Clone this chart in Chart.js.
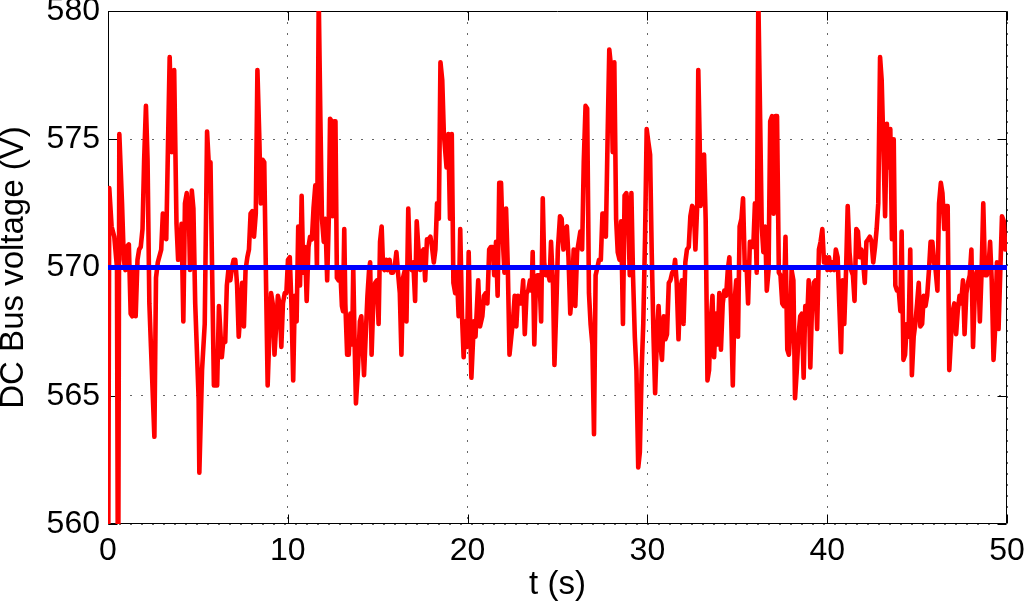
<!DOCTYPE html>
<html><head><meta charset="utf-8">
<script src="https://cdn.jsdelivr.net/npm/chart.js@4.4.0/dist/chart.umd.min.js"></script>
<style>html,body{margin:0;padding:0;background:#fff;}#wrap{width:1024px;height:608px;}</style>
</head><body><div id="wrap"><canvas id="c" width="1024" height="608"></canvas></div>
<script>
// time axis (s)
const timeS = [
0, 0.07, 0.2, 0.35, 0.5, 0.56, 0.63, 0.78, 0.88, 0.97,
1.03, 1.16, 1.26, 1.35, 1.45, 1.54, 1.64, 1.73, 1.82, 1.92,
2.01, 2.11, 2.20, 2.30, 2.39, 2.58, 2.67, 2.77, 2.96, 3.05,
3.15, 3.24, 3.34, 3.43, 3.56, 3.68, 3.81, 3.90, 4.00, 4.09,
4.19, 4.28, 4.38, 4.51, 4.56, 4.66, 4.75, 4.85, 5.04, 5.08,
5.23, 5.38, 5.51, 5.60, 5.70, 5.79, 5.89, 6.07, 6.17,
6.33, 6.42, 6.52, 6.61, 6.71, 6.80, 6.90, 6.99, 7.08, 7.18,
7.27, 7.37, 7.46, 7.56, 7.65, 7.75, 7.84, 7.93, 8.03, 8.12,
8.22, 8.31, 8.41, 8.50, 8.60, 8.69, 8.79, 8.88, 8.97, 9.07,
9.16, 9.26, 9.35, 9.45, 9.54, 9.64, 9.73, 9.83, 9.92, 10.01,
10.11, 10.20, 10.30, 10.39, 10.49, 10.58, 10.68, 10.77, 10.86, 10.96,
11.05, 11.15, 11.24, 11.34, 11.43, 11.53, 11.62, 11.72, 11.81, 11.90,
12.00, 12.09, 12.19, 12.28,
12.35, 12.44, 12.50, 12.58, 12.65, 12.73, 12.82, 12.92, 13.01, 13.07,
13.14, 13.20, 13.30, 13.39, 13.48, 13.58, 13.64, 13.71, 13.79, 13.90,
14.01, 14.09, 14.16, 14.24, 14.33, 14.43, 14.52, 14.58, 14.66, 14.77,
14.86, 14.96, 15.05, 15.13, 15.22, 15.30, 15.37, 15.47, 15.56, 15.66,
15.75, 15.85, 15.94, 16.04, 16.13, 16.23, 16.32, 16.41, 16.51, 16.60,
16.70, 16.79, 16.89, 16.98, 17.08, 17.17, 17.26, 17.36, 17.45, 17.55,
17.64, 17.74, 17.83, 17.93, 18.02, 18.12, 18.21, 18.30, 18.40, 18.49,
18.59, 18.68,
18.83, 18.93, 19.02, 19.12, 19.21, 19.31, 19.40, 19.50, 19.59, 19.69,
19.78, 19.87, 19.97, 20.06, 20.16, 20.21, 20.35, 20.44, 20.59, 20.69,
20.82, 20.91, 21.01, 21.10, 21.20, 21.29, 21.39, 21.48, 21.58, 21.67,
21.76, 21.86, 21.95, 22.05, 22.14, 22.24, 22.33, 22.43, 22.52, 22.62,
22.71, 22.80, 22.90, 22.99, 23.09, 23.18, 23.28, 23.37, 23.47, 23.56,
23.62, 23.71, 23.79, 23.88, 23.99, 24.09, 24.18, 24.26, 24.35, 24.45,
24.56, 24.64, 24.75, 24.83, 24.94, 25.02,
25.14, 25.23, 25.33, 25.42, 25.52, 25.61, 25.71, 25.80, 25.90, 25.99,
26.09, 26.18, 26.27, 26.37, 26.46, 26.56, 26.65, 26.75, 26.84, 26.94,
27.03, 27.12, 27.22, 27.31, 27.41, 27.50, 27.60, 27.69, 27.79, 27.88,
27.98, 28.07, 28.16, 28.26, 28.35, 28.45, 28.54, 28.64, 28.73, 28.83,
28.92, 29.02, 29.11, 29.20, 29.30, 29.39, 29.49, 29.58, 29.68, 29.77,
29.87, 29.96, 30.05, 30.15, 30.24, 30.34, 30.43, 30.53, 30.62, 30.72,
30.81, 30.91, 31.00, 31.09, 31.19, 31.28, 31.38, 31.47,
31.54, 31.63, 31.73, 31.82, 31.92, 32.01, 32.11, 32.20, 32.30, 32.39,
32.49, 32.58, 32.67, 32.77, 32.83, 32.90, 32.96, 33.05, 33.15, 33.24,
33.34, 33.43, 33.52, 33.62, 33.71, 33.81, 33.90, 34.00, 34.09, 34.19,
34.28, 34.38, 34.47, 34.56, 34.66, 34.75, 34.85, 34.94, 35.04, 35.13,
35.23, 35.32, 35.42, 35.51, 35.60, 35.70, 35.79, 35.89, 35.98, 36.08,
36.17, 36.27, 36.36, 36.45, 36.55, 36.64, 36.74, 36.83, 36.93, 37.02,
37.12, 37.21, 37.31, 37.40, 37.50, 37.59, 37.68, 37.78, 37.87,
37.93, 38.02, 38.12, 38.21, 38.31, 38.40, 38.50, 38.59, 38.69, 38.78,
38.88, 38.97, 39.06, 39.16, 39.25, 39.35, 39.44, 39.54, 39.63, 39.73,
39.82, 39.92, 40.01, 40.10, 40.20, 40.29, 40.39, 40.48, 40.58, 40.67,
40.77, 40.86, 40.95, 41.05, 41.14, 41.24, 41.33, 41.43, 41.52, 41.62,
41.71, 41.81, 41.90, 41.99, 42.09, 42.18, 42.28, 42.37, 42.47, 42.56,
42.66, 42.75, 42.84, 42.94, 43.03, 43.13, 43.22, 43.32, 43.41, 43.51,
43.60, 43.70, 43.79, 43.88, 43.98, 44.07,
44.14, 44.24, 44.33, 44.43, 44.52, 44.62, 44.71, 44.81, 44.90, 45.00,
45.09, 45.18, 45.28, 45.37, 45.47, 45.56, 45.66, 45.75, 45.85, 45.94,
46.03, 46.13, 46.22, 46.32, 46.41, 46.51, 46.60, 46.70, 46.79, 46.89,
46.98, 47.07, 47.17, 47.26, 47.36, 47.45, 47.55, 47.64, 47.74, 47.83,
47.93, 48.02, 48.11, 48.21, 48.30, 48.40, 48.49, 48.59, 48.68, 48.78,
48.87, 48.96, 49.06, 49.15, 49.25, 49.34, 49.44, 49.53, 49.63, 49.72,
49.82, 49.91, 50.00
];

// measured DC bus voltage (V)
const dcBusVoltage = [
555, 573.1, 571.6, 571.2, 570.0, 555, 575.2, 572.5, 570.3, 569.9,
570.8, 570.9, 568.2, 568.1, 569.9, 568.1, 570.3, 570.7, 570.8, 571.5,
574.2, 576.3, 574.2, 568.6, 566.9, 563.4, 569.6, 570.2, 570.7, 572.1,
572.0, 571.1, 574.9, 578.2, 574.5, 577.7, 571.7, 570.3, 570.4, 571.7,
567.9, 572.5, 572.9, 571.7, 569.9, 573.0, 572.3, 568.6, 564.9, 562.0,
566.0, 567.8, 575.3, 574.1, 574.1, 569.9, 565.4, 565.4, 568.5,
566.5, 567.2, 567.1, 569.3, 570.0, 569.5, 570.0, 570.3, 570.3, 569.3,
567.3, 568.3, 569.4, 567.7, 569.9, 570.4, 570.7, 572.1, 572.2, 571.2,
572.1, 577.7, 575.2, 572.5, 574.2, 574.1, 569.4, 565.4, 567.3, 569.0,
568.6, 566.6, 567.7, 568.9, 568.6, 566.9, 568.6, 569.0, 569.0, 570.3,
570.4, 568.6, 565.6, 568.9, 567.9, 571.6, 569.3, 572.8, 569.8, 570.8,
568.7, 570.8, 571.2, 571.1, 572.3, 573.2, 570.0, 580.5, 575.9, 571.9,
571.0, 571.9, 569.5, 571.9,
575.8, 575.7, 572.0, 575.7, 575.7, 569.6, 569.5, 569.9, 568.5, 568.3,
571.5, 568.6, 566.6, 566.6, 568.2, 567.0, 570.0, 567.3, 564.7, 566.0,
567.9, 568.1, 567.0, 565.8, 567.3, 568.9, 569.9, 570.2, 566.6, 569.0,
569.4, 569.5, 567.8, 571.0, 571.6, 570.0, 569.9, 570.3, 569.9, 570.3,
569.8, 569.8, 570.0, 570.6, 569.8, 569.0, 566.6, 569.6, 569.9, 567.9,
572.3, 570.2, 569.9, 570.2, 568.7, 571.8, 570.8, 569.9, 570.6, 570.7,
569.5, 571.1, 571.1, 571.2, 570.8, 570.2, 570.7, 572.5, 571.9, 578.0,
577.3, 575.2,
573.9, 575.2, 571.9, 575.2, 569.4, 569.0, 569.9, 568.1, 571.5, 568.1,
566.5, 567.9, 566.9, 570.6, 567.3, 565.7, 567.9, 567.3, 569.5, 567.7,
568.1, 568.9, 569.0, 568.6, 570.7, 570.8, 570.8, 569.7, 571.0, 568.9,
573.3, 573.3, 571.2, 569.8, 572.3, 569.9, 566.6, 567.3, 567.9, 568.9,
567.7, 568.9, 568.6, 568.6, 569.5, 567.4, 569.0, 569.1, 569.5, 569.1,
570.6, 567.0, 569.1, 569.7, 569.7, 567.9, 572.7, 570.2, 569.7, 569.9,
569.5, 571.0, 569.3, 566.2, 568.6, 570.7,
572.0, 571.9, 570.7, 571.5, 571.6, 570.4, 568.2, 569.0, 570.7, 568.5,
570.6, 571.0, 571.4, 570.7, 574.1, 576.3, 576.2, 569.0, 567.8, 567.0,
563.5, 569.7, 570.0, 570.3, 570.3, 572.1, 572.1, 571.2, 575.2, 578.5,
577.8, 574.5, 578.0, 571.9, 570.6, 570.3, 571.8, 567.8, 572.8, 572.9,
572.3, 569.7, 572.9, 569.7, 567.3, 566.0, 562.2, 562.8, 566.0, 567.8,
571.2, 575.4, 574.9, 574.4, 570.6, 567.3, 565.1, 567.3, 568.5, 567.0,
566.4, 568.1, 567.2, 567.4, 569.4, 569.5, 569.8, 569.9,
570.3, 569.4, 567.2, 569.1, 569.5, 567.8, 570.2, 570.7, 570.8, 572.0,
572.4, 572.3, 570.7, 572.4, 577.7, 575.2, 572.4, 572.8, 574.4, 571.9,
565.6, 566.0, 567.9, 568.9, 566.5, 568.2, 567.0, 569.0, 566.8, 568.6,
569.1, 568.9, 569.9, 570.4, 568.1, 565.4, 568.7, 569.5, 567.3, 571.6,
571.9, 572.7, 569.9, 570.2, 568.6, 571.0, 571.0, 570.8, 572.5, 569.8,
580.5, 575.8, 571.6, 570.6, 571.6, 569.1, 569.9, 575.7, 575.9, 572.1,
575.9, 575.9, 569.8, 569.7, 568.6, 568.5, 571.2, 566.8, 566.6,
567.3, 569.9, 569.5, 564.9, 566.0, 567.3, 568.1, 568.2, 565.7, 568.5,
567.8, 569.5, 566.1, 568.6, 569.4, 569.5, 567.6, 570.7, 571.0, 571.5,
570.2, 570.4, 569.9, 570.4, 569.9, 570.2, 569.9, 570.7, 570.4, 568.6,
566.7, 569.5, 567.8, 569.9, 572.4, 570.6, 569.9, 569.7, 568.7, 571.5,
571.4, 570.4, 570.7, 570.3, 569.4, 571.0, 571.1, 571.2, 571.0, 570.2,
570.8, 571.5, 572.5, 578.2, 577.3, 574.6, 572.0, 575.6, 573.9, 575.4,
571.1, 575.0, 569.3, 569.1, 569.1, 568.3,
571.4, 566.4, 566.6, 567.8, 567.3, 570.7, 565.8, 567.3, 567.8, 568.6,
569.4, 567.7, 567.8, 568.9, 568.5, 568.9, 569.9, 571.0, 571.0, 570.2,
569.9, 569.1, 572.5, 573.3, 572.9, 571.5, 572.4, 572.4, 566.0, 567.3,
568.3, 568.6, 567.4, 568.3, 568.9, 568.6, 569.5, 567.4, 569.0, 569.4,
569.7, 570.7, 566.9, 569.0, 569.8, 570.0, 567.9, 569.9, 572.5, 569.7,
569.7, 569.9, 571.0, 569.5, 566.4, 567.6, 570.2, 567.6, 569.9, 572.0,
571.8, 570.7, 571.1
];

// reference voltage line
const refTime = [0, 50];
const refVoltage = [570, 570];

// axis ticks and labels
const xTicks = [0, 10, 20, 30, 40, 50];
const yTicks = [560, 565, 570, 575, 580];
const xTitle = 't (s)';
const yTitle = 'DC Bus voltage (V)';

const n = Math.min(timeS.length, dcBusVoltage.length);
const measuredPts = [];
for (let i = 0; i < n; i++) measuredPts.push({x: timeS[i], y: dcBusVoltage[i]});
const refPts = refTime.map((t, i) => ({x: t, y: refVoltage[i]}));

const FONT = "'Liberation Sans', Arial, Helvetica, sans-serif";

const framePlugin = {
  id: 'frame',
  beforeDatasetsDraw(chart) {
    const {ctx, chartArea: a, scales: {x, y}} = chart;
    ctx.save();
    ctx.strokeStyle = '#000';
    ctx.lineWidth = 1;
    const L = Math.round(a.left) + 0.5, R = Math.round(a.right) - 0.5;
    const T = Math.round(a.top) + 0.5, B = Math.round(a.bottom) - 0.5;
    const tl = 9;
    ctx.beginPath();
    ctx.rect(L, T, R - L, B - T);
    xTicks.forEach(v => {
      const px = Math.round(x.getPixelForValue(v)) + 0.5;
      ctx.moveTo(px, B); ctx.lineTo(px, B - tl);
      ctx.moveTo(px, T); ctx.lineTo(px, T + tl);
    });
    yTicks.forEach(v => {
      const py = Math.round(y.getPixelForValue(v)) + 0.5;
      ctx.moveTo(L, py); ctx.lineTo(L + tl, py);
      ctx.moveTo(R, py); ctx.lineTo(R - tl, py);
    });
    ctx.stroke();
    ctx.restore();
  }
};

new Chart(document.getElementById('c'), {
  type: 'line',
  data: {
    datasets: [
      {label: 'Reference', data: refPts, borderColor: '#0000ff', borderWidth: 5,
       pointRadius: 0, tension: 0, order: 0},
      {label: 'DC bus voltage', data: measuredPts, borderColor: '#ff0000', borderWidth: 4.6,
       pointRadius: 0, tension: 0, order: 1, borderJoinStyle: 'round', borderCapStyle: 'round'}
    ]
  },
  options: {
    responsive: false,
    animation: false,
    layout: {padding: {top: 11, right: 17, bottom: 0, left: 0}},
    plugins: {legend: {display: false}, tooltip: {enabled: false}},
    scales: {
      x: {
        type: 'linear', min: 0, max: 50,
        afterBuildTicks: s => { s.ticks = xTicks.map(v => ({value: v})); },
        afterFit: s => { s.height = 84; s.paddingLeft = 0; s.paddingRight = 0; },
        grid: {color: 'rgba(0,0,0,0.6)', lineWidth: 1, drawTicks: false},
        border: {display: false, dash: [2, 9]},
        ticks: {padding: 8, color: '#000', font: {family: FONT, size: 32}, maxRotation: 0, autoSkip: false},
        title: {display: true, text: xTitle, color: '#000',
                font: {family: FONT, size: 33, lineHeight: 1.2}, padding: {top: 0, bottom: 3}}
      },
      y: {
        type: 'linear', min: 560, max: 580,
        afterBuildTicks: s => { s.ticks = yTicks.map(v => ({value: v})); },
        afterFit: s => { s.width = 108; s.paddingTop = 0; s.paddingBottom = 0; },
        grid: {color: 'rgba(0,0,0,0.6)', lineWidth: 1, drawTicks: false},
        border: {display: false, dash: [2, 9]},
        ticks: {padding: 8, color: '#000', font: {family: FONT, size: 32}, autoSkip: false},
        title: {display: true, text: yTitle, color: '#000',
                font: {family: FONT, size: 33, lineHeight: 0.85}, padding: {top: 0, bottom: 0}}
      }
    }
  },
  plugins: [framePlugin]
});
</script>
</body></html>
